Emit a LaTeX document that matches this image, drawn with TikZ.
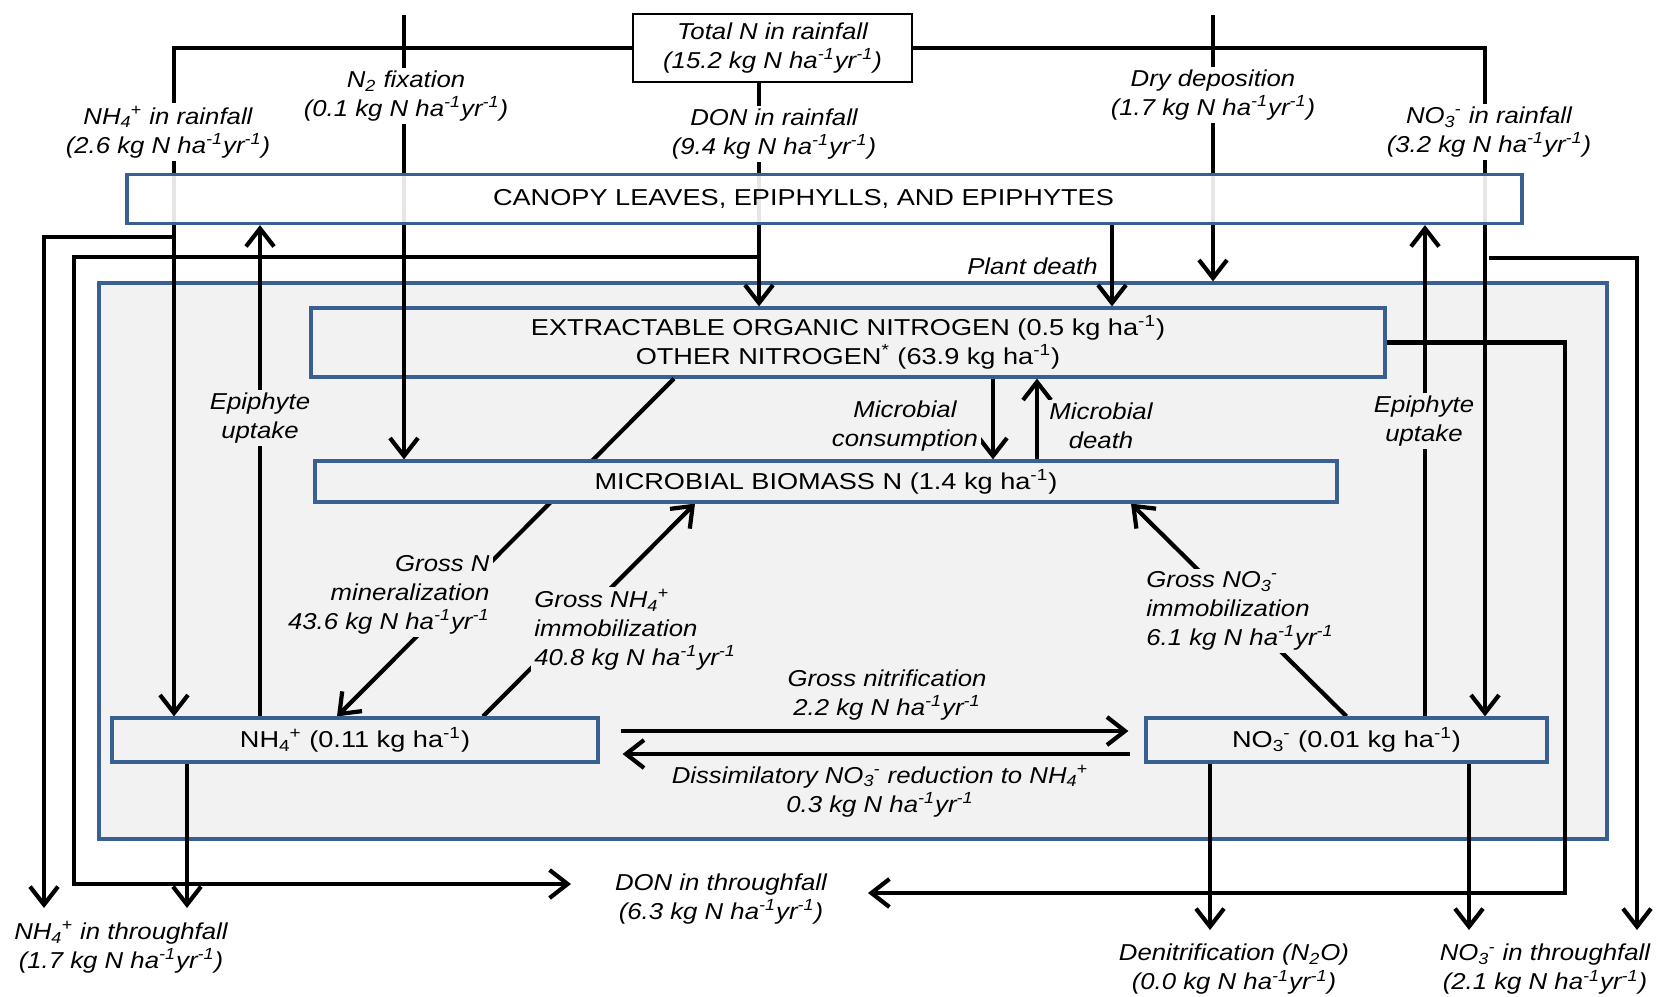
\documentclass[tikz,border=0pt]{standalone}
\usepackage{fontspec}
\setmainfont{Liberation Sans}[UprightFeatures={FakeStretch=1.18}, ItalicFeatures={FakeStretch=1.12}]
\usetikzlibrary{arrows.meta}
\definecolor{poolblue}{RGB}{58,95,145}
\definecolor{soilgray}{RGB}{242,242,242}
\newcommand{\figfont}{\fontsize{11.5}{14.5}\selectfont}
\newcommand{\ionsub}[2]{\textsubscript{#1}\kern-0.5pt\textsuperscript{#2}}
\newcommand{\kgrate}{kg N ha\textsuperscript{-1}yr\textsuperscript{-1}}
\newcommand{\perha}{ha\textsuperscript{-1}}
\pgfdeclarelayer{soillayer}
\pgfdeclarelayer{flowlayer}
\pgfsetlayers{soillayer,flowlayer,main}
\tikzset{
  pool/.style={draw=poolblue, line width=1.6pt, fill=soilgray, inner sep=0pt, align=center, font=\figfont},
  flow/.style={line width=2.1pt, -{Straight Barb[length=9pt,width=14pt]}},
  fluxlabel/.style={font=\figfont\itshape, align=center, inner sep=1.5pt},
  outlabel/.style={fluxlabel, fill=white},
  inlabel/.style={fluxlabel, fill=soilgray},
}
\begin{document}
\begin{tikzpicture}[x=0.5pt,y=-0.5pt]
\useasboundingbox (0,0) rectangle (1659,996);
% soil compartment and organic pool
\begin{pgfonlayer}{soillayer}
\node[pool, minimum width=754pt, minimum height=278pt] (soil) at (853,561) {};
\node[pool, minimum width=537pt, minimum height=34.5pt] (eon) at (848,342.5)
  {EXTRACTABLE ORGANIC NITROGEN (0.5 kg \perha)\\OTHER NITROGEN\textsuperscript{*} (63.9 kg  \perha)};
\end{pgfonlayer}
% pools
\node[draw, line width=0.8pt, fill=white, minimum width=139.5pt, minimum height=34pt, align=center, font=\figfont\itshape] (total) at (772.5,48)
  {Total N in rainfall\\(15.2 \kgrate)};
\node[pool, fill=white, fill opacity=0.9, text opacity=1, minimum width=697.5pt, minimum height=24.5pt] (canopy) at (824.5,199)
  {CANOPY LEAVES, EPIPHYLLS, AND EPIPHYTES\hspace*{21pt}};
\node[pool, minimum width=511pt, minimum height=20.5pt] (mb) at (826,481.5) {MICROBIAL BIOMASS N (1.4 kg  \perha)};
\node[pool, minimum width=243pt, minimum height=22pt] (nh4) at (355,740) {NH\ionsub{4}{+} (0.11 kg  \perha)};
\node[pool, minimum width=200.5pt, minimum height=22pt] (no3) at (1346.5,740) {NO\ionsub{3}{-} (0.01 kg \perha)};
% free ends
\coordinate (n2top) at (404,15);
\coordinate (drytop) at (1213,15);
\coordinate (nhfork) at (174,237);
\coordinate (donfork) at (759,257);
\coordinate (nofork) at (1489,258);
\coordinate (thrulevel) at (0,908);
\coordinate (outlevel) at (0,930);
\coordinate (donleft) at (571,884);
\coordinate (donright) at (868,893);
\begin{pgfonlayer}{flowlayer}
% inputs
\draw[flow] (total.west) -| (nh4.north -| 174,0);
\draw[flow] (total.east) -| (no3.north -| 1485,0);
\draw[flow] (total.south -| 759,0) -- (eon.north -| 759,0);
\draw[flow] (n2top) -- (mb.north -| n2top);
\draw[flow] (drytop) -- (soil.north -| drytop);
% throughfall
\draw[flow] (nhfork) -| (44,0 |- thrulevel);
\draw[flow] (donfork) -| (74,0 |- donleft) -- (donleft);
\draw[flow] (nofork) -| (1637,0 |- outlevel);
\draw[flow] (eon.east) -| (1565,0 |- donright) -- (donright);
% canopy exchange
\draw[flow] (nh4.north -| 260,0) -- (canopy.south -| 260,0);
\draw[flow] (no3.north -| 1425,0) -- (canopy.south -| 1425,0);
\draw[flow] (canopy.south -| 1112,0) -- (eon.north -| 1112,0);
% soil transformations
\draw[flow] (eon.south -| 993,0) -- (mb.north -| 993,0);
\draw[flow] (mb.north -| 1037,0) -- (eon.south -| 1037,0);
\draw[flow] (eon.south -| 674,0) -- (nh4.north -| 337,0);
\draw[flow] (nh4.north -| 483,0) -- (mb.south -| 695,0);
\draw[flow] (no3.north) -- (mb.south -| 1131,0);
\draw[flow] ([xshift=10.5pt,yshift=4.5pt]nh4.east) -- ([xshift=-8pt,yshift=4.5pt]no3.west);
\draw[flow] ([xshift=-7pt,yshift=-7pt]no3.west) -- ([xshift=11.5pt,yshift=-7pt]nh4.east);
% outputs
\draw[flow] (nh4.south -| 187,0) -- (187,0 |- thrulevel);
\draw[flow] (no3.south -| 1210,0) -- (1210,0 |- outlevel);
\draw[flow] (no3.south -| 1469,0) -- (1469,0 |- outlevel);
\end{pgfonlayer}
% labels
\node[outlabel] (nhrain) at (168,132) {NH\ionsub{4}{+} in rainfall\\(2.6 \kgrate)};
\node[outlabel] (n2fix) at (406,96) {N\textsubscript{2} fixation\\(0.1 \kgrate)};
\node[outlabel] (donrain) at (774,134) {DON in rainfall\\(9.4 \kgrate)};
\node[outlabel] (drydep) at (1213,95) {Dry deposition\\(1.7 \kgrate)};
\node[outlabel] (norain) at (1489,132) {NO\ionsub{3}{-} in rainfall\\(3.2 \kgrate)};
\node[fluxlabel, anchor=east] (death) at (1101,266) {Plant death};
\node[inlabel] (epileft) at (260,418) {Epiphyte\\uptake};
\node[inlabel] (epiright) at (1424,421) {Epiphyte\\uptake};
\node[inlabel] (consume) at (905,426) {Microbial\\consumption};
\node[inlabel] (mdeath) at (1101,426) {Microbial\\death};
\node[inlabel, anchor=east, align=right] (minlab) at (493,595) {Gross N\\mineralization\\43.6 \kgrate};
\node[inlabel, anchor=west, align=left] (nhimm) at (531,630) {Gross NH\ionsub{4}{+}\\immobilization\\40.8 \kgrate};
\node[inlabel, anchor=west, align=left] (noimm) at (1143,611) {Gross NO\ionsub{3}{-}\\immobilization\\6.1 \kgrate};
\node[inlabel] (nitrif) at (887,695) {Gross nitrification\\2.2 \kgrate};
\node[inlabel] (dnra) at (880,791) {Dissimilatory NO\ionsub{3}{-} reduction to NH\ionsub{4}{+}\\0.3 \kgrate};
\node[outlabel] (nhthru) at (121,947.5) {NH\ionsub{4}{+} in throughfall\\(1.7 \kgrate)};
\node[outlabel] (donthru) at (721,899) {DON in throughfall\\(6.3 \kgrate)};
\node[outlabel] (denit) at (1234,969.5) {Denitrification (N\textsubscript{2}O)\\(0.0 \kgrate)};
\node[outlabel] (nothru) at (1545,969.5) {NO\ionsub{3}{-} in throughfall\\(2.1 \kgrate)};
\end{tikzpicture}
\end{document}
